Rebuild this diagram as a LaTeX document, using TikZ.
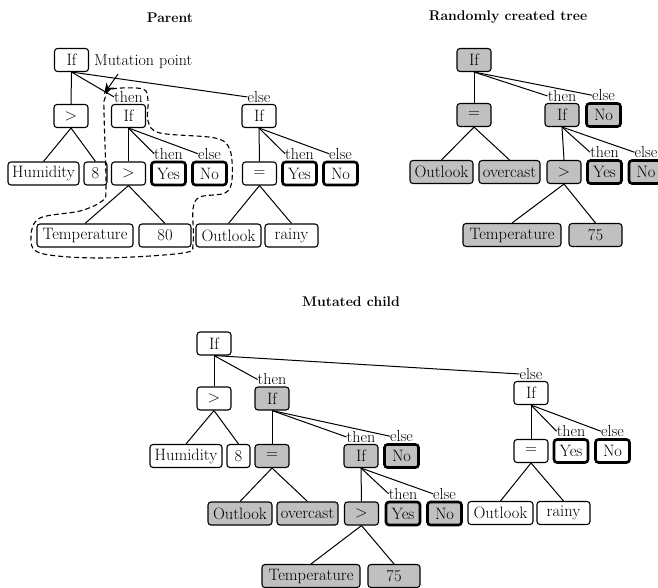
\documentclass[tikz,border=0pt]{standalone}
\usetikzlibrary{arrows.meta}
\definecolor{fillgray}{RGB}{192,192,192}
\tikzset{
  box/.style={draw, rounded corners=3pt, line width=1.1pt, minimum height=23pt,
    minimum width=34pt, inner xsep=2pt, inner ysep=0pt,
    font=\fontsize{16.5}{19}\selectfont},
  leaf/.style={box, line width=2.6pt},
  gbox/.style={box, fill=fillgray},
  gleaf/.style={leaf, fill=fillgray},
  lbltext/.style={inner sep=0pt, font=\fontsize{16}{19}\selectfont},
  title/.style={font=\fontsize{14}{17}\selectfont\bfseries},
  edge/.style={line width=1pt},
}
% label above a child node: name, child, text
\newcommand\brlabel[3]{\node[lbltext, anchor=base] (#1) at ([yshift=1.5pt]#2.north) {#3};}
\begin{document}
\begin{tikzpicture}[x=1pt, y=-1pt]
\useasboundingbox (0,0) rectangle (658,587);

% ---------------- Parent ----------------
\node[title] (tP) at (170,18) {Parent};
\node[box] (pR) at (71.5,60) {If};
\node[box] (pGt) at (71,116) {>};
\node[box] (pIf1) at (128.5,116) {If};
\node[box] (pIf2) at (259,116) {If};
\node[box, minimum width=71pt] (pHum) at (43.5,173.5) {Humidity};
\node[box, minimum width=23pt] (p8) at (95.5,173.5) {8};
\node[box] (pGt2) at (128.5,173.5) {>};
\node[leaf] (pYes1) at (168.5,173.5) {Yes};
\node[leaf] (pNo1) at (209.5,173.5) {No};
\node[box] (pEq) at (259.5,173.5) {=};
\node[leaf] (pYes2) at (299.5,173.5) {Yes};
\node[leaf] (pNo2) at (340.5,173.5) {No};
\node[box, minimum width=96pt] (pTemp) at (85,235.5) {Temperature};
\node[box, minimum width=52pt] (p80) at (165,235.5) {80};
\node[box, minimum width=65pt] (pOut) at (228.5,235.5) {Outlook};
\node[box, minimum width=53pt] (pRainy) at (291.5,235.5) {rainy};

\brlabel{lpIf1}{pIf1}{then}
\brlabel{lpIf2}{pIf2}{else}
\brlabel{lpYes1}{pYes1}{then}
\brlabel{lpNo1}{pNo1}{else}
\brlabel{lpYes2}{pYes2}{then}
\brlabel{lpNo2}{pNo2}{else}

\draw[edge] (pR.south) -- (pGt.north);
\draw[edge] (pR.south) -- (lpIf1.west);
\draw[edge] (pR.south) -- (lpIf2.west);
\draw[edge] (pGt.south) -- (pHum.north);
\draw[edge] (pGt.south) -- (p8.north);
\draw[edge] (pIf1.south) -- (pGt2.north);
\draw[edge] (pIf1.south) -- (lpYes1.west);
\draw[edge] (pIf1.south) -- (lpNo1.west);
\draw[edge] (pGt2.south) -- (pTemp.north);
\draw[edge] (pGt2.south) -- (p80.north);
\draw[edge] (pIf2.south) -- (pEq.north);
\draw[edge] (pIf2.south) -- (lpYes2.west);
\draw[edge] (pIf2.south) -- (lpNo2.west);
\draw[edge] (pEq.south) -- (pOut.north);
\draw[edge] (pEq.south) -- (pRainy.north);

% subtree that gets replaced
\draw[line width=1.1pt, dash pattern=on 5pt off 3pt] plot[smooth cycle, tension=0.55] coordinates {
  (105,98) (112,89) (143,89) (148,101) (148,121) (160,133) (215,138) (230,150)
  (232,180) (225,193) (200,197) (193,209) (193,243) (183,253) (100,258)
  (40,253) (31,236) (40,218) (80,211) (102,201) (106,188) (104,112)};

\node[lbltext, anchor=west] (mp) at (94,62) {Mutation point};
\coordinate (mpTail) at (118,74);
\coordinate (mpTip) at (104,94);
\draw[edge, -{Stealth[length=11pt, width=9pt]}] (mpTail) -- (mpTip);

% ---------------- Randomly created tree ----------------
\node[title] (tR) at (508,17) {Randomly created tree};
\node[gbox] (rR) at (474,60) {If};
\node[gbox] (rEq) at (474,115) {=};
\node[gbox] (rIf) at (562,115) {If};
\node[gleaf] (rNo) at (603.5,115) {No};
\node[gbox, minimum width=63pt] (rOut) at (441.5,172) {Outlook};
\node[gbox, minimum width=61pt] (rOver) at (509.5,172) {overcast};
\node[gbox] (rGt) at (564,172) {>};
\node[gleaf] (rYes) at (604.5,172) {Yes};
\node[gleaf] (rNo2) at (646,172) {No};
\node[gbox, minimum width=98pt] (rTemp) at (512,235) {Temperature};
\node[gbox, minimum width=53pt] (r75) at (595.5,235) {75};

\brlabel{lrIf}{rIf}{then}
\brlabel{lrNo}{rNo}{else}
\brlabel{lrYes}{rYes}{then}
\brlabel{lrNo2}{rNo2}{else}

\draw[edge] (rR.south) -- (rEq.north);
\draw[edge] (rR.south) -- (lrIf.west);
\draw[edge] (rR.south) -- (lrNo.west);
\draw[edge] (rEq.south) -- (rOut.north);
\draw[edge] (rEq.south) -- (rOver.north);
\draw[edge] (rIf.south) -- (rGt.north);
\draw[edge] (rIf.south) -- (lrYes.west);
\draw[edge] (rIf.south) -- (lrNo2.west);
\draw[edge] (rGt.south) -- (rTemp.north);
\draw[edge] (rGt.south) -- (r75.north);

% ---------------- Mutated child ----------------
\node[title] (tM) at (351,302) {Mutated child};
\node[box] (mR) at (214,343.5) {If};
\node[box] (mGt) at (214,398.5) {>};
\node[gbox] (mIf) at (272,398.5) {If};
\node[box] (mIf2) at (531,393) {If};
\node[box, minimum width=72pt] (mHum) at (186,456) {Humidity};
\node[box, minimum width=23pt] (m8) at (238.5,456) {8};
\node[gbox] (mEq) at (272,456) {=};
\node[gbox] (mIf3) at (361,456) {If};
\node[gleaf] (mNo) at (401.5,456) {No};
\node[box] (mEq2) at (531,451) {=};
\node[leaf] (mYes2) at (571,451) {Yes};
\node[leaf] (mNo2) at (612.5,451) {No};
\node[gbox, minimum width=64pt] (mOut) at (240,513.5) {Outlook};
\node[gbox, minimum width=61pt] (mOver) at (307.5,513.5) {overcast};
\node[gbox] (mGt2) at (361.5,513.5) {>};
\node[gleaf] (mYes) at (403,513.5) {Yes};
\node[gleaf] (mNo3) at (444.5,513.5) {No};
\node[box, minimum width=65pt] (mOut2) at (500.5,513) {Outlook};
\node[box, minimum width=53pt] (mRainy) at (563.5,513) {rainy};
\node[gbox, minimum width=98pt] (mTemp) at (311,576) {Temperature};
\node[gbox, minimum width=52pt] (m75) at (394,576) {75};

\brlabel{lmIf}{mIf}{then}
\brlabel{lmIf2}{mIf2}{else}
\brlabel{lmIf3}{mIf3}{then}
\brlabel{lmNo}{mNo}{else}
\brlabel{lmYes}{mYes}{then}
\brlabel{lmNo3}{mNo3}{else}
\brlabel{lmYes2}{mYes2}{then}
\brlabel{lmNo2}{mNo2}{else}

\draw[edge] (mR.south) -- (mGt.north);
\draw[edge] (mR.south) -- (lmIf.west);
\draw[edge] (mR.south) -- (lmIf2.west);
\draw[edge] (mGt.south) -- (mHum.north);
\draw[edge] (mGt.south) -- (m8.north);
\draw[edge] (mIf.south) -- (mEq.north);
\draw[edge] (mIf.south) -- (lmIf3.west);
\draw[edge] (mIf.south) -- (lmNo.west);
\draw[edge] (mEq.south) -- (mOut.north);
\draw[edge] (mEq.south) -- (mOver.north);
\draw[edge] (mIf3.south) -- (mGt2.north);
\draw[edge] (mIf3.south) -- (lmYes.west);
\draw[edge] (mIf3.south) -- (lmNo3.west);
\draw[edge] (mGt2.south) -- (mTemp.north);
\draw[edge] (mGt2.south) -- (m75.north);
\draw[edge] (mIf2.south) -- (mEq2.north);
\draw[edge] (mIf2.south) -- (lmYes2.west);
\draw[edge] (mIf2.south) -- (lmNo2.west);
\draw[edge] (mEq2.south) -- (mOut2.north);
\draw[edge] (mEq2.south) -- (mRainy.north);
\end{tikzpicture}
\end{document}
